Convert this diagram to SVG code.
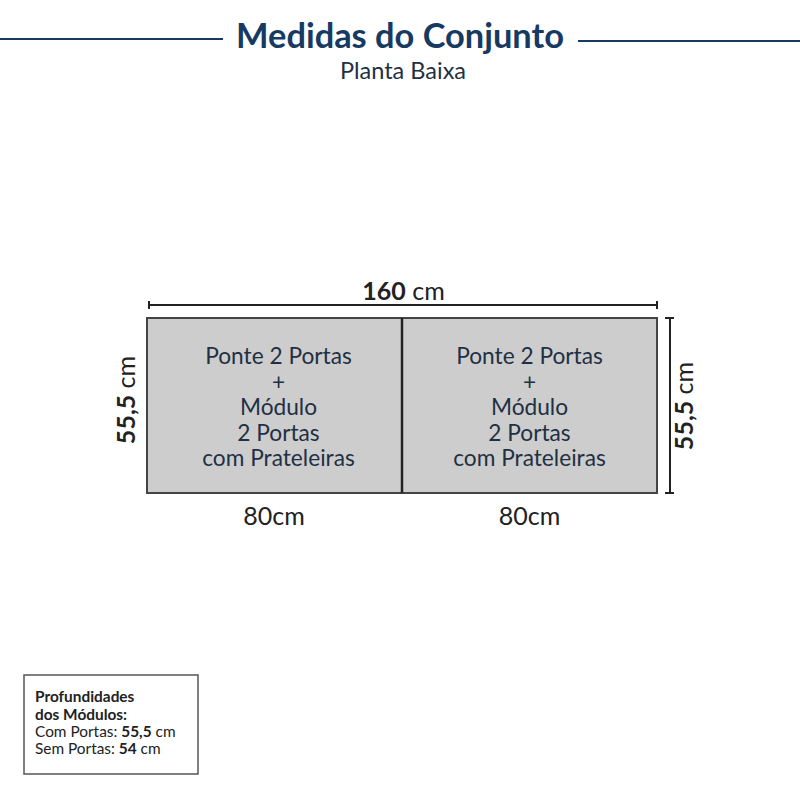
<svg xmlns="http://www.w3.org/2000/svg" width="800" height="800" viewBox="0 0 800 800">
<style>
text{font-family:"Lato","Noto Sans","Liberation Sans",sans-serif}
.t{font-size:22.7px;fill:#1f3044;text-anchor:middle}
.m{font-size:25px;fill:#222;text-anchor:middle}
.b{font-weight:700}
.d{stroke:#222;stroke-width:2;fill:none}
.n{stroke:#173a63;stroke-width:2;fill:none}
.box{fill:#cdcdcd;stroke:#444;stroke-width:2}
.l{font-size:15.4px;fill:#222}
</style>
<rect width="800" height="800" fill="#fff"/>
<g id="header">
<line class="n" x1="0" y1="39" x2="223" y2="39"/>
<line class="n" x1="578" y1="41" x2="800" y2="41"/>
<text x="400" y="48" text-anchor="middle" font-size="34.4" font-weight="700" fill="#173a63">Medidas do Conjunto</text>
<text x="403" y="79" text-anchor="middle" font-size="23.5" fill="#1f3044">Planta Baixa</text>
</g>
<g id="modulo-esquerdo">
<rect class="box" x="147" y="318" width="255" height="175"/>
<text class="t" x="278.500" y="364">Ponte 2 Portas</text>
<text class="t" x="278.500" y="390">+</text>
<text class="t" x="278.500" y="415">Módulo</text>
<text class="t" x="278.500" y="441">2 Portas</text>
<text class="t" x="278.500" y="466">com Prateleiras</text>
</g>
<g id="modulo-direito">
<rect class="box" x="402" y="318" width="255" height="175"/>
<text class="t" x="529.500" y="364">Ponte 2 Portas</text>
<text class="t" x="529.500" y="390">+</text>
<text class="t" x="529.500" y="415">Módulo</text>
<text class="t" x="529.500" y="441">2 Portas</text>
<text class="t" x="529.500" y="466">com Prateleiras</text>
</g>
<g id="connectors">
<path class="d" d="M149 301V309M149 305H657M657 301V309"/>
<path class="d" d="M665 318H674M670 318V493M665 493H674"/>
<line x1="402" y1="318" x2="402" y2="493" stroke="#222" stroke-width="2.500"/>
</g>
<g id="cotas">
<text class="m" x="403.500" y="300"><tspan class="b">160</tspan> cm</text>
<text class="m" x="274" y="525">80cm</text>
<text class="m" x="529.500" y="525">80cm</text>
<text class="m" transform="translate(135 400) rotate(-90)"><tspan class="b">55,5</tspan> cm</text>
<text class="m" transform="translate(693 406) rotate(-90)"><tspan class="b">55,5</tspan> cm</text>
</g>
<g id="legenda">
<rect x="24" y="675" width="174" height="99" fill="#fff" stroke="#555" stroke-width="1.500"/>
<text class="l b" x="35" y="702">Profundidades</text>
<text class="l b" x="35" y="720">dos Módulos:</text>
<text class="l" x="35" y="737">Com Portas: <tspan class="b">55,5</tspan> cm</text>
<text class="l" x="35" y="754">Sem Portas: <tspan class="b">54</tspan> cm</text>
</g>
</svg>
